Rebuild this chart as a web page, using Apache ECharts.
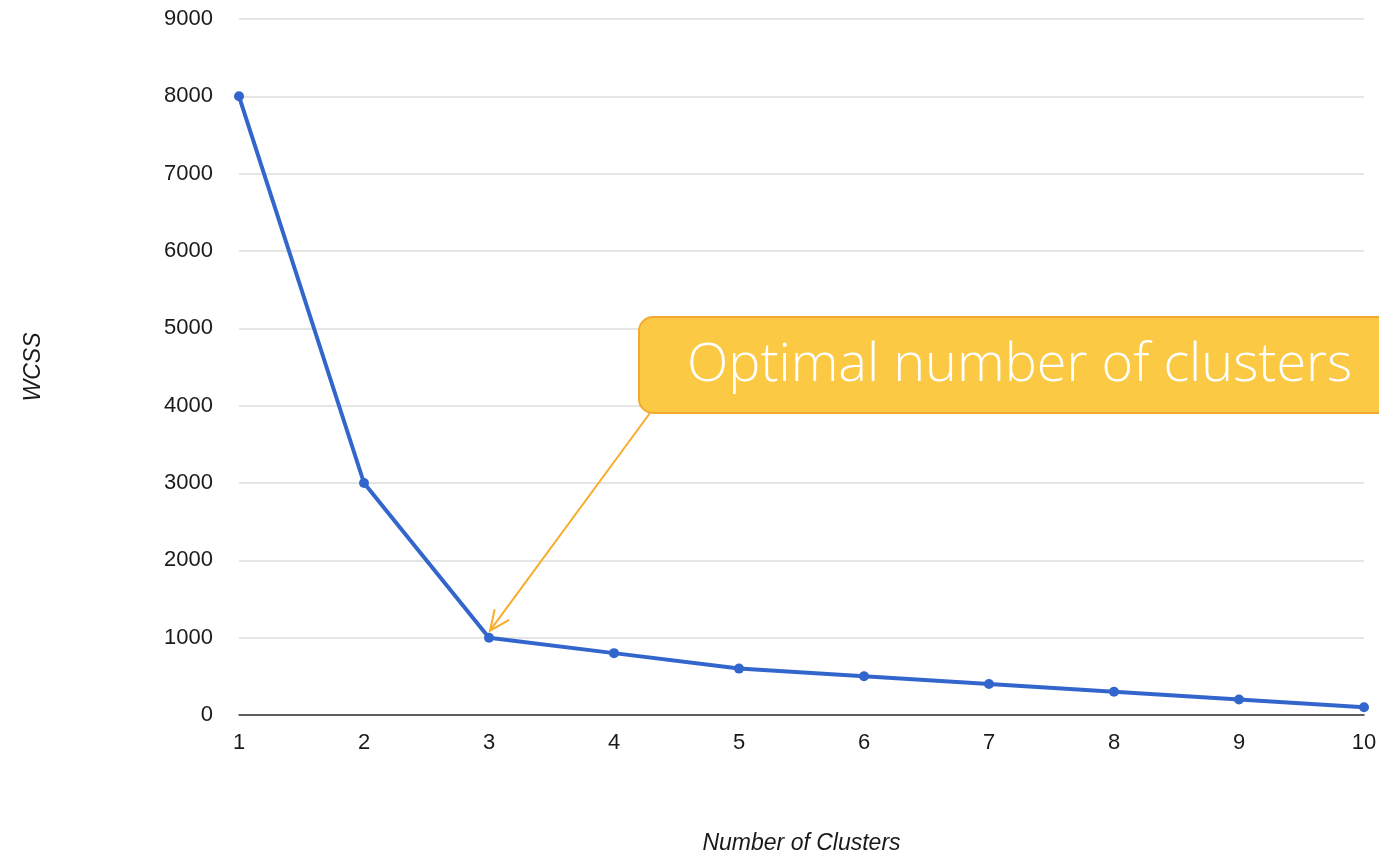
<!DOCTYPE html>
<html>
<head>
<meta charset="utf-8">
<script src="https://cdn.jsdelivr.net/npm/echarts@6/dist/echarts.min.js"></script>
<style>
  html, body { margin: 0; padding: 0; background: #fff; overflow: hidden; }
  #chart { width: 1379px; height: 853px; }
</style>
</head>
<body>
<div id="chart"></div>
<script>
// Elbow method: within-cluster sum of squares per cluster count
const clusterCounts = [1, 2, 3, 4, 5, 6, 7, 8, 9, 10];
const wcssValues = [8000, 3000, 1000, 800, 600, 500, 400, 300, 200, 100];
const yTicks = [0, 1000, 2000, 3000, 4000, 5000, 6000, 7000, 8000, 9000];
const calloutText = 'Optimal number of clusters';
const optimalK = 3;

const chart = echarts.init(document.getElementById('chart'));
const baseFont = '"Liberation Sans", Arial, sans-serif';
const textColor = '#1a1a1a';

chart.setOption({
  animation: false,
  grid: { left: 239, right: 15, top: 19, bottom: 138, outerBoundsMode: 'none', containLabel: false },
  xAxis: {
    type: 'value',
    min: clusterCounts[0],
    max: clusterCounts[clusterCounts.length - 1],
    interval: 1,
    name: 'Number of Clusters',
    nameLocation: 'middle',
    nameGap: 117,
    nameTextStyle: { fontFamily: baseFont, fontStyle: 'italic', fontSize: 23, color: textColor },
    axisLine: { show: true, onZero: false, lineStyle: { color: '#333', width: 1.5 } },
    axisTick: { show: false },
    splitLine: { show: false },
    axisLabel: { fontFamily: baseFont, fontSize: 22, color: textColor, margin: 17 }
  },
  yAxis: {
    type: 'value',
    min: yTicks[0],
    max: yTicks[yTicks.length - 1],
    interval: yTicks[1] - yTicks[0],
    name: 'WCSS',
    nameLocation: 'middle',
    nameGap: 194,
    nameRotate: 90,
    nameTextStyle: { fontFamily: baseFont, fontStyle: 'italic', fontSize: 23, color: textColor },
    axisLine: { show: false },
    axisTick: { show: false },
    splitLine: { lineStyle: { color: '#dcdcdc', width: 1.5 } },
    axisLabel: {
      fontFamily: baseFont, fontSize: 22, color: textColor, margin: 26,
      formatter: v => String(v)
    }
  },
  series: [{
    type: 'line',
    data: clusterCounts.map((k, i) => [k, wcssValues[i]]),
    lineStyle: { color: '#3366cc', width: 4 },
    itemStyle: { color: '#3366cc' },
    symbol: 'circle',
    symbolSize: 10,
    z: 3
  }]
});

// Callout box with an arrow pointing at the elbow point
const idx = clusterCounts.indexOf(optimalK);
const target = chart.convertToPixel({ gridIndex: 0 }, [optimalK, wcssValues[idx]]);
const box = { x: 639, y: 317, w: 800, h: 96 };
const start = [650, box.y + box.h];
const tip = [target[0] + 1, target[1] - 7];
const ang = Math.atan2(tip[1] - start[1], tip[0] - start[0]);
const headLen = 22, spread = 0.42;
const h1 = [tip[0] - headLen * Math.cos(ang - spread), tip[1] - headLen * Math.sin(ang - spread)];
const h2 = [tip[0] - headLen * Math.cos(ang + spread), tip[1] - headLen * Math.sin(ang + spread)];
const arrowColor = '#f5ad2a';

chart.setOption({
  graphic: [
    {
      type: 'polyline', z: 10,
      shape: { points: [start, tip] },
      style: { stroke: arrowColor, lineWidth: 2, fill: null }
    },
    {
      type: 'polyline', z: 10,
      shape: { points: [h1, tip, h2] },
      style: { stroke: arrowColor, lineWidth: 2, fill: null }
    },
    {
      type: 'rect', z: 11,
      shape: { x: box.x, y: box.y, width: box.w, height: box.h, r: 14 },
      style: { fill: '#fcc944', stroke: '#f2a932', lineWidth: 2 }
    },
    {
      type: 'text', z: 12,
      x: 687, y: 366,
      style: {
        text: calloutText,
        fill: '#ffffff',
        font: '300 54px "Open Sans", Lato, sans-serif',
        verticalAlign: 'middle',
        align: 'left'
      }
    }
  ]
});
</script>
</body>
</html>
